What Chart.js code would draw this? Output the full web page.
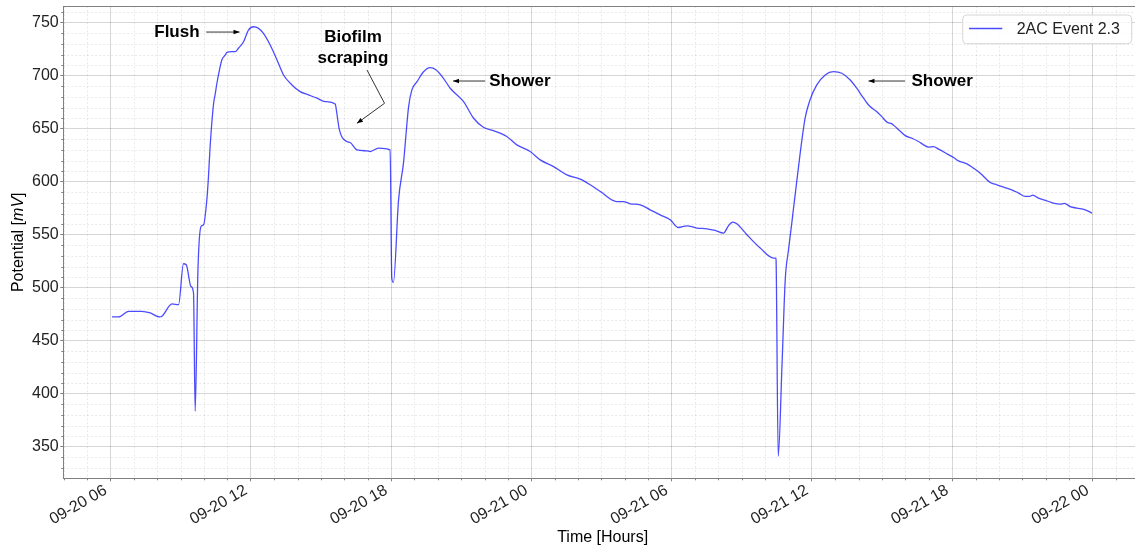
<!DOCTYPE html>
<html><head><meta charset="utf-8">
<script src="https://cdn.jsdelivr.net/npm/chart.js@4/dist/chart.umd.min.js"></script>
<style>html,body{margin:0;padding:0;overflow:hidden;background:#fff}canvas{display:block}</style>
</head><body>
<canvas id="c" width="1142" height="549"></canvas>
<script>
// hours since 09-20 00:00
const timeHours = [6.06,6.34,6.77,7.34,7.70,8.10,8.20,8.63,8.91,9.12,9.24,9.44,9.55,9.62,9.74,9.87,9.98,10.12,10.19,10.26,10.41,10.48,10.55,10.69,10.76,10.91,10.98,11.19,11.33,11.47,11.69,11.90,12.12,12.33,12.54,12.83,13.12,13.40,13.76,14.11,14.47,14.83,15.18,15.61,15.68,15.79,16.11,16.25,16.54,16.97,17.11,17.46,17.96,18.03,18.10,18.32,18.53,18.75,18.89,19.11,19.39,19.67,19.93,20.24,20.53,21.10,21.53,21.95,22.38,22.95,23.38,23.95,24.38,24.95,25.52,26.09,26.52,26.95,27.66,27.94,28.23,28.66,29.08,29.51,29.94,30.29,30.65,31.08,31.51,31.86,32.22,32.43,32.62,32.79,33.22,33.79,34.36,34.46,34.47,34.56,34.72,34.86,35.00,35.14,35.36,35.71,35.92,36.21,36.57,36.92,37.28,37.64,37.92,38.21,38.49,38.78,38.99,39.21,39.42,39.64,39.99,40.28,40.56,40.78,40.99,41.20,41.42,41.78,42.06,42.27,42.63,42.91,43.20,43.63,43.91,44.20,44.55,44.84,45.13,45.31,45.45,45.69,46.05,46.33,46.62,46.80,47.05,47.33,47.69,47.98];
const potential = [472.4,472.4,477.7,477.7,476.2,472.4,473.0,484.7,484.0,522.6,521.7,501.2,495.0,383.5,517.0,557.8,559.4,583.0,605.0,633.2,674.0,683.0,692.9,708.5,714.9,719.6,722.1,722.7,722.7,725.9,732.1,743.1,746.2,744.7,740.0,729.0,714.9,700.7,691.3,685.0,681.9,678.8,675.6,673.4,664.6,648.9,637.9,637.0,630.0,629.1,628.5,631.7,630.0,509.2,505.0,582.9,617.5,670.9,686.6,694.4,703.8,707.6,705.4,697.6,688.2,675.6,659.9,651.4,648.2,642.6,634.8,628.5,620.6,614.3,606.5,602.4,597.1,590.8,581.3,581.3,579.2,578.2,573.5,568.8,564.1,556.8,558.4,556.3,555.6,554.0,551.5,558.4,561.9,560.3,550.0,537.4,528.0,528.0,524.8,341.0,425.9,507.6,535.8,561.0,601.8,659.9,677.2,691.3,700.7,703.8,702.3,696.0,688.2,678.8,670.9,666.1,661.4,656.2,654.6,650.5,643.5,641.0,637.9,634.8,632.6,633.2,630.7,626.3,622.8,619.7,616.9,612.8,608.1,599.3,597.1,594.9,592.4,589.3,586.1,586.1,587.4,584.5,582.0,579.8,578.9,579.5,576.6,575.1,573.5,570.4];
const tickHours = [6,12,18,24,30,36,42,48];
const tickLabels = ['09-20 06','09-20 12','09-20 18','09-21 00','09-21 06','09-21 12','09-21 18','09-22 00'];
const yTicks = [350,400,450,500,550,600,650,700,750];
const seriesLabel = '2AC Event 2.3';
// annotations in data coordinates (hours, mV)
const annoTexts = [['Flush'],['Biofilm','scraping'],['Shower'],['Shower']];
const annoTextPos = [[8.84,741.2],[16.37,726.6],[23.51,695.0],[41.57,695.0]];
const annoArrows = [[[10.09,741.2],[11.52,741.2]],[[16.97,705.4],[17.72,674.0],[16.54,655.1]],[[22.03,695.0],[20.65,695.0]],[[39.99,695.0],[38.42,695.0]]];

const FAM = "'Liberation Sans', Arial, Helvetica, sans-serif";
const LINE_COLOR = 'rgba(0,0,255,0.7)';

const decor = {
  id: 'decor',
  beforeDatasetsDraw(chart) {
    const {ctx, chartArea: a, scales: {x, y}} = chart;
    ctx.save();
    ctx.strokeStyle = 'rgba(0,0,0,0.09)';
    ctx.lineWidth = 1;
    ctx.setLineDash([2, 2]);
    ctx.beginPath();
    for (let h = Math.ceil(x.min); h <= x.max; h++) {
      if (h % 6 === 0) continue;
      const px = Math.round(x.getPixelForValue(h)) + 0.5;
      ctx.moveTo(px, a.top); ctx.lineTo(px, a.bottom);
    }
    for (let v = Math.ceil(y.min / 10) * 10; v <= y.max; v += 10) {
      if (v % 50 === 0) continue;
      const py = Math.round(y.getPixelForValue(v)) + 0.5;
      ctx.moveTo(a.left, py); ctx.lineTo(a.right, py);
    }
    ctx.stroke();
    ctx.setLineDash([]);
    ctx.strokeStyle = '#808080';
    ctx.beginPath();
    for (let h = Math.ceil(x.min); h <= x.max; h++) {
      if (h % 6 === 0) continue;
      const px = Math.round(x.getPixelForValue(h)) + 0.5;
      ctx.moveTo(px, a.bottom); ctx.lineTo(px, a.bottom + 2);
    }
    for (let v = Math.ceil(y.min / 10) * 10; v <= y.max; v += 10) {
      if (v % 50 === 0) continue;
      const py = Math.round(y.getPixelForValue(v)) + 0.5;
      ctx.moveTo(a.left, py); ctx.lineTo(a.left - 2, py);
    }
    ctx.moveTo(a.left, Math.round(a.top) + 0.5); ctx.lineTo(a.right, Math.round(a.top) + 0.5);
    ctx.stroke();
    ctx.restore();
  },
  afterDraw(chart) {
    const {ctx, chartArea: a, scales: {x, y}} = chart;
    ctx.save();
    // annotations
    ctx.fillStyle = '#000';
    ctx.font = 'bold 17px ' + FAM;
    ctx.textAlign = 'center';
    ctx.textBaseline = 'middle';
    annoTexts.forEach((lines, i) => {
      const cx = x.getPixelForValue(annoTextPos[i][0]);
      const cy = y.getPixelForValue(annoTextPos[i][1]);
      const lh = 21;
      lines.forEach((t, j) => ctx.fillText(t, cx, cy + (j - (lines.length - 1) / 2) * lh));
    });
    ctx.strokeStyle = '#000';
    ctx.lineWidth = 0.8;
    annoArrows.forEach(path => {
      const pts = path.map(p => [x.getPixelForValue(p[0]), y.getPixelForValue(p[1])]);
      ctx.beginPath();
      ctx.moveTo(pts[0][0], pts[0][1]);
      for (let k = 1; k < pts.length; k++) ctx.lineTo(pts[k][0], pts[k][1]);
      ctx.stroke();
      const [ex, ey] = pts[pts.length - 1];
      const [sx, sy] = pts[pts.length - 2];
      const ang = Math.atan2(ey - sy, ex - sx);
      const L = 6, W = 2.3;
      ctx.beginPath();
      ctx.moveTo(ex, ey);
      ctx.lineTo(ex - L * Math.cos(ang) - W * Math.sin(ang), ey - L * Math.sin(ang) + W * Math.cos(ang));
      ctx.lineTo(ex - L * Math.cos(ang) + W * Math.sin(ang), ey - L * Math.sin(ang) - W * Math.cos(ang));
      ctx.closePath();
      ctx.fill();
    });
    // legend
    const bx = 962.7, by = 15, bw = 169, bh = 28.7, r = 4;
    ctx.beginPath();
    ctx.moveTo(bx + r, by); ctx.lineTo(bx + bw - r, by); ctx.quadraticCurveTo(bx + bw, by, bx + bw, by + r);
    ctx.lineTo(bx + bw, by + bh - r); ctx.quadraticCurveTo(bx + bw, by + bh, bx + bw - r, by + bh);
    ctx.lineTo(bx + r, by + bh); ctx.quadraticCurveTo(bx, by + bh, bx, by + bh - r);
    ctx.lineTo(bx, by + r); ctx.quadraticCurveTo(bx, by, bx + r, by);
    ctx.closePath();
    ctx.fillStyle = 'rgba(255,255,255,0.8)';
    ctx.fill();
    ctx.strokeStyle = '#d6d6d6';
    ctx.lineWidth = 1;
    ctx.stroke();
    ctx.strokeStyle = chart.data.datasets[0].borderColor;
    ctx.lineWidth = 1.3;
    ctx.beginPath(); ctx.moveTo(969, 28.5); ctx.lineTo(1002.3, 28.5); ctx.stroke();
    ctx.fillStyle = '#222';
    ctx.font = '16px ' + FAM;
    ctx.textAlign = 'left';
    ctx.fillText(chart.data.datasets[0].label, 1016.7, 29.5);
    // y axis title with italic unit
    ctx.translate(19, (a.top + a.bottom) / 2);
    ctx.rotate(-Math.PI / 2);
    const parts = [['Potential [', '16px ' + FAM], ['mV', 'italic 16px ' + FAM], [']', '16px ' + FAM]];
    let total = 0;
    parts.forEach(p => { ctx.font = p[1]; total += ctx.measureText(p[0]).width; });
    let cx = -total / 2;
    ctx.fillStyle = '#000';
    ctx.textBaseline = 'middle';
    parts.forEach(p => { ctx.font = p[1]; ctx.fillText(p[0], cx, 0); cx += ctx.measureText(p[0]).width; });
    ctx.restore();
  }
};

const zeroPad = s => { s.paddingTop = 0; s.paddingBottom = 0; s.paddingLeft = 0; s.paddingRight = 0; };

new Chart(document.getElementById('c'), {
  type: 'line',
  data: {
    datasets: [{
      label: seriesLabel,
      data: timeHours.map((h, i) => ({x: h, y: potential[i]})),
      borderColor: LINE_COLOR,
      borderWidth: 1.3,
      pointRadius: 0,
      cubicInterpolationMode: 'monotone',
      fill: false
    }]
  },
  options: {
    responsive: false,
    animation: false,
    devicePixelRatio: 1,
    layout: {padding: {left: 0, right: 0, top: 6.3, bottom: 0}},
    plugins: {legend: {display: false}, tooltip: {enabled: false}, title: {display: false}},
    scales: {
      x: {
        type: 'linear', min: 3.98, max: 50.12,
        afterBuildTicks: s => { s.ticks = tickHours.map(v => ({value: v})); },
        afterFit: s => { s.height = 70.7; zeroPad(s); },
        grid: {color: 'rgba(0,0,0,0.16)', lineWidth: 1, tickLength: 3, tickColor: '#808080'},
        border: {color: '#808080', width: 1},
        ticks: {
          autoSkip: false, minRotation: 30, maxRotation: 30, padding: -0.4, labelOffset: -4.8,
          color: '#222', font: {family: FAM, size: 16},
          callback: v => { const i = tickHours.indexOf(v); return i >= 0 ? tickLabels[i] : ''; }
        },
        title: {display: true, text: 'Time [Hours]', color: '#000', font: {family: FAM, size: 16}, padding: {top: 0, bottom: 1.4}}
      },
      y: {
        type: 'linear', min: 320.2, max: 765.5,
        afterBuildTicks: s => { s.ticks = yTicks.map(v => ({value: v})); },
        afterFit: s => { s.width = 63.3; zeroPad(s); },
        grid: {color: 'rgba(0,0,0,0.16)', lineWidth: 1, tickLength: 3, tickColor: '#808080'},
        border: {color: '#808080', width: 1},
        ticks: {padding: 1.6, color: '#222', font: {family: FAM, size: 16}, callback: v => String(v)}
      }
    }
  },
  plugins: [decor]
});
</script>
</body></html>
